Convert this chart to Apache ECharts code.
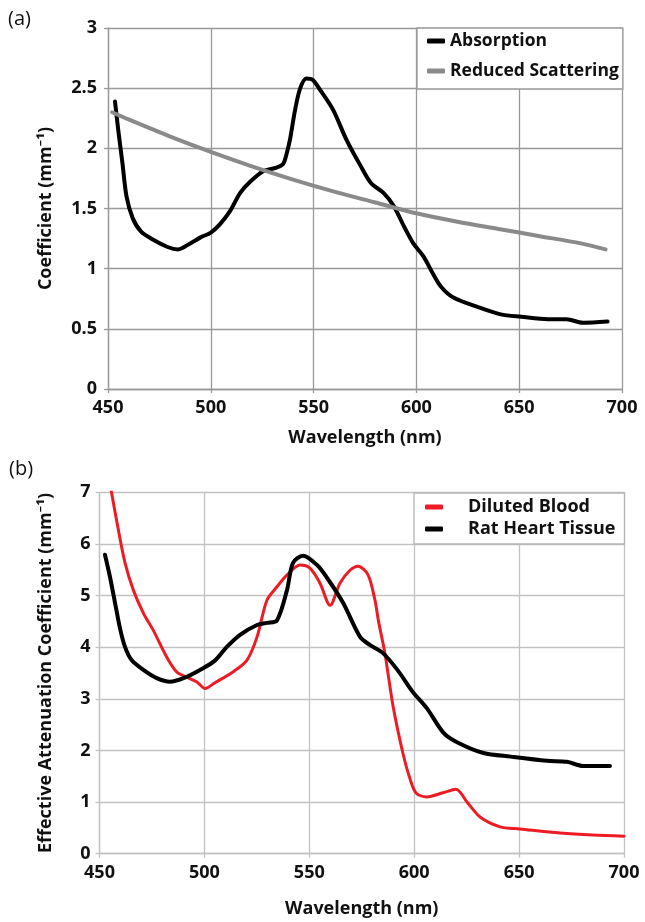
<!DOCTYPE html>
<html>
<head>
<meta charset="utf-8">
<script src="https://cdn.jsdelivr.net/npm/echarts@6/dist/echarts.min.js"></script>
<style>
html,body{margin:0;padding:0;background:#fff}
#main{width:645px;height:922px}
</style>
</head>
<body>
<div id="main"></div>
<script>
var FONT = "'Open Sans', 'Noto Sans', sans-serif";

// (a) absorption + reduced scattering, mm^-1
var absWl = [453.4, 455, 457, 459, 462, 466, 472, 479, 484, 490, 495, 500, 504.5, 509.4, 514.3, 519, 525.5, 532, 535.2, 537.1, 538.6, 541, 543.5, 546.5, 549.5, 553, 559.5, 566, 573, 578, 584, 589, 594, 598.5, 603.5, 608, 612, 618, 630, 641, 651, 664, 673, 681, 693];
var absVal = [2.39, 2.15, 1.88, 1.60, 1.42, 1.31, 1.24, 1.18, 1.16, 1.21, 1.26, 1.30, 1.37, 1.48, 1.63, 1.72, 1.81, 1.84, 1.87, 1.97, 2.08, 2.32, 2.50, 2.58, 2.57, 2.49, 2.32, 2.07, 1.85, 1.71, 1.63, 1.52, 1.35, 1.21, 1.10, 0.96, 0.85, 0.76, 0.68, 0.62, 0.60, 0.58, 0.58, 0.55, 0.56];
var scatWl = [452, 460, 480, 500, 520, 540, 560, 580, 600, 620, 640, 660, 680, 692];
var scatVal = [2.30, 2.24, 2.10, 1.97, 1.85, 1.74, 1.64, 1.55, 1.46, 1.39, 1.33, 1.27, 1.21, 1.16];

// (b) effective attenuation coefficient, mm^-1
var bloodWl = [452, 455.8, 459, 462.2, 466.1, 470.9, 475.6, 482, 486.8, 491.6, 496.3, 500.3, 505, 513.6, 520.3, 525.1, 529.8, 534.6, 539.4, 545.6, 550.3, 555.1, 559.9, 564.6, 569.4, 573.2, 578, 581.3, 583, 586, 590, 594.6, 598, 601, 606, 613.7, 619.9, 625.2, 631.4, 640.9, 650.4, 669.5, 685.2, 700];
var bloodVal = [7.8, 6.98, 6.27, 5.63, 5.11, 4.66, 4.33, 3.81, 3.52, 3.42, 3.33, 3.20, 3.31, 3.52, 3.75, 4.20, 4.91, 5.17, 5.40, 5.59, 5.53, 5.24, 4.81, 5.24, 5.49, 5.57, 5.40, 4.91, 4.50, 3.89, 2.84, 1.95, 1.45, 1.17, 1.10, 1.18, 1.25, 1.00, 0.71, 0.52, 0.48, 0.40, 0.36, 0.34];
var heartWl = [452.6, 455, 457.4, 459.8, 462.2, 465.3, 470.9, 477.3, 483.6, 490, 497.9, 505, 510.8, 517, 525.1, 529.8, 534.6, 539.4, 542.2, 547, 553.7, 558.5, 566.1, 574.2, 579, 585, 592, 599.4, 606, 614, 620.4, 633, 646, 663.3, 672.8, 680.5, 693.3];
var heartVal = [5.79, 5.36, 4.86, 4.36, 4.00, 3.75, 3.56, 3.40, 3.33, 3.40, 3.56, 3.74, 4.01, 4.24, 4.43, 4.47, 4.52, 5.11, 5.63, 5.77, 5.59, 5.34, 4.86, 4.20, 4.04, 3.89, 3.56, 3.13, 2.82, 2.34, 2.16, 1.95, 1.88, 1.80, 1.78, 1.70, 1.70];

var xTicks = [450, 500, 550, 600, 650, 700];

function pairs(xs, ys) {
  var out = [];
  for (var i = 0; i < xs.length; i++) out.push([xs[i], ys[i]]);
  return out;
}

function xAxisOf(idx, gridColor, gap) {
  return {
    type: 'value', gridIndex: idx,
    min: xTicks[0], max: xTicks[xTicks.length - 1], interval: 50,
    name: 'Wavelength (nm)', nameLocation: 'middle', nameGap: gap,
    nameTextStyle: { fontFamily: FONT, fontWeight: 'bold', fontSize: 18, color: '#111' },
    axisLine: { lineStyle: { color: gridColor, width: 1.3 } },
    axisTick: { show: true, length: 4, lineStyle: { color: gridColor, width: 1.3 } },
    axisLabel: { margin: 10, fontFamily: FONT, fontWeight: 'bold', fontSize: 18, color: '#111' },
    splitLine: { show: true, lineStyle: { color: gridColor, width: 1.3 } }
  };
}

function yAxisOf(idx, gridColor, max, step, name, gap, lblMargin) {
  return {
    type: 'value', gridIndex: idx, min: 0, max: max, interval: step,
    name: name, nameLocation: 'middle', nameGap: gap,
    nameTextStyle: { fontFamily: FONT, fontWeight: 'bold', fontSize: 18, color: '#111' },
    axisLine: { show: true, lineStyle: { color: gridColor, width: 1.3 } },
    axisTick: { show: true, length: 4, lineStyle: { color: gridColor, width: 1.3 } },
    axisLabel: { margin: lblMargin, fontFamily: FONT, fontWeight: 'bold', fontSize: 18, color: '#111' },
    splitLine: { show: true, lineStyle: { color: gridColor, width: 1.3 } }
  };
}

function lineSeries(name, xi, data, color, w) {
  return {
    name: name, type: 'line', xAxisIndex: xi, yAxisIndex: xi,
    data: data, showSymbol: false, smooth: 0.3,
    lineStyle: { color: color, width: w, cap: 'round', join: 'round' },
    itemStyle: { color: color }
  };
}

var chart = echarts.init(document.getElementById('main'), null, { renderer: 'canvas' });

var option = {
  backgroundColor: '#fff',
  animation: false,
  grid: [
    { left: 108, top: 28, width: 514, height: 361 },
    { left: 99.5, top: 492.3, width: 524.5, height: 361.4 }
  ],
  xAxis: [xAxisOf(0, '#999', 40), xAxisOf(1, '#c2c2c2', 46)],
  yAxis: [
    yAxisOf(0, '#999', 3, 0.5, 'Coefficient (mm⁻¹)', 53, 11),
    yAxisOf(1, '#c2c2c2', 7, 1, 'Effective Attenuation Coefficient (mm⁻¹)', 45, 9)
  ],
  legend: [
    {
      data: ['Absorption', 'Reduced Scattering'],
      orient: 'vertical', left: 417, top: 28,
      padding: [4, 4, 9, 10], itemGap: 12,
      itemWidth: 18, itemHeight: 5, icon: 'roundRect',
      backgroundColor: '#fff', borderColor: '#999', borderWidth: 1.3,
      textStyle: { fontFamily: FONT, fontWeight: 'bold', fontSize: 17.5, color: '#111' }
    },
    {
      data: ['Diluted Blood', 'Rat Heart Tissue'],
      orient: 'vertical', left: 414, top: 493,
      padding: [5, 9, 6, 11], itemGap: 4,
      itemWidth: 18, itemHeight: 5, icon: 'roundRect',
      backgroundColor: '#fff', borderColor: '#b5b5b5', borderWidth: 1.3,
      textStyle: { fontFamily: FONT, fontWeight: 'bold', fontSize: 18, color: '#111', padding: [0, 0, 0, 20] }
    }
  ],
  graphic: [
    { type: 'text', left: 8, top: 9, style: { text: '(a)', fontFamily: FONT, fontSize: 20, fill: '#111' } },
    { type: 'text', left: 9, top: 459, style: { text: '(b)', fontFamily: FONT, fontSize: 20, fill: '#111' } }
  ],
  series: [
    lineSeries('Absorption', 0, pairs(absWl, absVal), '#000', 4),
    lineSeries('Reduced Scattering', 0, pairs(scatWl, scatVal), '#8a8a8a', 4),
    lineSeries('Diluted Blood', 1, pairs(bloodWl, bloodVal), '#ed1c24', 3),
    lineSeries('Rat Heart Tissue', 1, pairs(heartWl, heartVal), '#000', 4)
  ]
};

chart.setOption(option);
</script>
</body>
</html>
